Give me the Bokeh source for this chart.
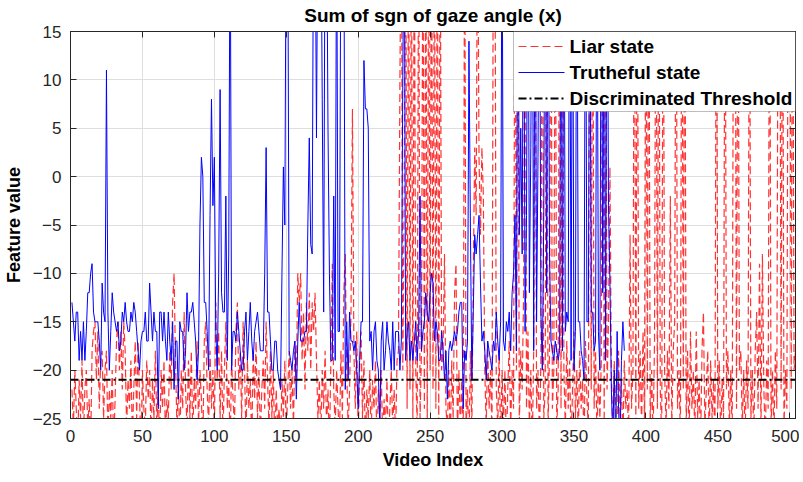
from bokeh.plotting import figure
from bokeh.models import (LinearAxis, SingleIntervalTicker, Range1d, CustomJSTickFormatter,
                          BoxAnnotation, Arrow, Label)
from bokeh.embed import file_html
from bokeh.resources import INLINE

# ---------------- data ----------------
liar_state = [
    -22, -26, -20, -24, -28, -21, -25, -19, -27, -22,
    -20, -26, -23, -28, -18, -16, -15, -21, -16, -24,
    -19, -18, -25, -20, -18, -27, -22, -25, -20, -28,
    -23, -17, -15, -20, -16, -22, -15, -18, -26, -21,
    -24, -19, -27, -22, -17, -25, -17, -23, -28, -20,
    -24, -26, -19, -23, -20, -27, -21, -25, -18, -26,
    -22, -28, -20, -24, -19, -27, -23, -25, -18, -22,
    -13, -10, -19, -26, -21, -28, -20, -24, -14, -22,
    -26, -19, -25, -18, -27, -21, -24, -17, -26, -20,
    -23, -28, -17, -15, -22, -26, -18, -24, -20, -27,
    -13, -21, -16, -25, -18, -27, -20, -15, -24, -21,
    -28, -19, -23, -26, -16, -13, -22, -18, -25, -15,
    -20, -27, -19, -24, -21, -28, -18, -23, -17, -25,
    -20, -27, -22, -19, -24, -15, -21, -26, -18, -25,
    -20, -28, -22, -26, -24, -28, -21, -25, -19, -27,
    -22, -18, -24, -20, -26, -17, -21, -10, -13, -10,
    -19, -14, -22, -13, -18, -12, -20, -13, -16, -12,
    -19, -25, -21, -27, -20, -24, -18, -26, -22, -28,
    -19, -9, -22, -26, -20, -24, -27, -18, -25, -12,
    -8, -20, -26, -22, -14, 7, -18, -24, -16, -27,
    -20, -16, -25, -19, -28, -22, -25, -20, -27, -21,
    -24, -19, -28, -22, -25, -20, -27, -23, -26, -21,
    -28, -24, -20, -26, -22, -27, -19, -18, 10, 30,
    -20, -1, 30, -24, 30, -22, 30, -26, 30, -20,
    -26, 30, -25, -18, 30, -24, 30, -26, 30, -20,
    30, -22, 30, -24, 30, -26, 30, -20, -18, -8,
    -24, -26, -20, -28, -19, -25, -12, -9, -27, -20,
    -26, -21, -28, 30, -26, -22, -28, -18, -26, -10,
    3, -4, 30, 2, -6, 3, -2, -20, -26, -17,
    -24, -20, -27, 30, 30, -22, -26, -18, -28, -20,
    -26, -20, -28, -22, -17, -26, -20, -24, 30, -20,
    30, -26, -18, -22, -12, 30, -24, -16, -26, -20,
    -28, -18, 30, -24, -20, -27, -19, 30, -25, -22,
    30, -26, -18, 30, -24, -20, 30, -26, -22, 30,
    -24, 30, -20, -26, -17, -24, -19, -28, -22, -16,
    -25, -20, -27, -18, -24, -21, -28, -17, -23, -26,
    30, -22, 30, -24, -18, -27, -20, -25, -19, 30,
    -26, 30, -22, -15, 1, -20, -27, -19, -24, -28,
    -18, -25, -21, -28, -19, -24, -22, -27, -6, -24,
    -20, 30, -26, 30, -24, -18, -26, -16, -25, 30,
    -22, 30, -26, -20, -27, -17, 30, -24, 30, -22,
    -27, 30, -20, -26, -18, -24, -2, -26, -18, -15,
    30, -24, -20, -27, 30, -22, 30, -26, -18, -28,
    -16, -24, -20, -27, -16, -25, -21, -28, -18, -14,
    -26, -22, -18, -27, -19, -25, -21, -28, 30, -24,
    -19, -27, -21, -25, 30, -22, -18, -26, -20, -27,
    30, 30, -24, 30, -20, -18, -26, -20, -27, -19,
    -24, 30, -25, -20, -27, -18, -14, -24, -9, -26,
    -8, -22, -27, -19, -24, 30, -26, -20, -27, -18,
    -24, 30, 30, -22, 30, -26, -20, -24, 30, 30,
    -22, 30, -20, -18,
]

truthful_state = [
    -13, -15, -17, -14, -14, -19, -16, -19, -15, -19,
    -16, -12, -12, -10, -9, -14, -15, -15, -15, -17,
    -20, -11, -14, -15, 11, -14, -20, -16, -12, -14,
    -15, -16, -15, -18, -17, -14, -15, -13, -15, -16,
    -16, -14, -15, -13, -14, -16, -18, -20, -17, -16,
    -16, -14, -17, -17, -11, -14, -17, -14, -16, -16,
    -24, -14, -14, -17, -14, -17, -19, -14, -17, -19,
    -15, -22, -17, -17, -23, -15, -16, -16, -20, -18,
    -12, -16, -14, -14, -13, -15, -17, -21, -18, -5,
    2, 0, -13, -13, -16, -20, -4, 8, -3, 2,
    -16, -20, -10, 9, -12, -14, -14, -2, -19, -8,
    30, -20, -16, -16, -17, -14, -16, -18, -20, -20,
    -16, -14, -19, -16, -13, -17, -19, -16, -15, -14,
    -16, -18, -18, -18, -10, 3, -14, -14, -17, -20,
    -20, -17, -17, -20, -21, -22, -10, 1, -5, 30,
    30, -18, -19, -20, -18, -17, -23, -17, -13, -17,
    -17, -17, -16, -16, -5, 4, -7, -8, 30, 30,
    4, 30, 30, 30, 8, -14, 30, 30, 5, -10,
    -19, -19, -2, -19, 30, -16, -16, 30, 30, 30,
    -22, -15, -21, -14, -17, -17, -18, -17, -20, -24,
    -19, -15, -15, 12, 7, 7, 5, -17, -16, -20,
    -16, -15, -19, -20, -26, -17, -15, -20, -18, -15,
    -17, -18, -20, -15, -20, -16, -16, -16, -20, -17,
    10, 30, -19, -16, -15, -19, -17, -19, -17, -15,
    -19, -16, -2, -18, -16, -15, -12, -14, -15, -12,
    -10, -11, -17, -15, -16, -19, -19, -16, -18, -21,
    -18, -23, -18, -17, -18, -17, -16, -17, -16, -14,
    -13, -13, -24, -18, -19, -17, 14, -5, -21, -14,
    -6, -8, -6, -4, -11, -17, -16, -18, -21, -17,
    -18, -19, -20, -17, -18, -14, -17, -19, -15, 30,
    -17, -18, -15, -16, -14, -18, -12, -10, -4, -18,
    30, -6, 5, -8, 30, -16, -4, 30, -12, 3,
    30, -18, 30, -15, 2, 30, -14, -20, -4, 30,
    -12, 30, -8, -17, -18, -19, -17, -18, -19, -18,
    30, -18, 30, -16, -14, -15, 30, -19, 30, -20,
    -16, 30, -15, -15, -18, -19, -21, 30, -15, -15,
    30, -14, -14, -18, -17, 30, -16, -20, 30, -12,
    30, -19, 30, -3, -11, -22, -27, -20, -28, -16,
    -24, -28, -19, -15, -18,
]

threshold = -21
x_limits = (0, 504)
y_limits = (-25, 15)
x_tick_step = 50
y_tick_step = 5

series_names = ["Liar state", "Trutheful state", "Discriminated Threshold"]
series_colors = ["#ff0000", "#0000ff", "black"]
series_widths = [1.2, 1, 2]
series_dashes = ["8 4", "solid", "8 3 2 3"]
series_alphas = [0.8, 1, 1]

# ---------------- figure ----------------
FONT = "Liberation Sans"
TXT = "#262626"
FRAME_W, FRAME_H = 725, 387

p = figure(
    frame_width=FRAME_W, frame_height=FRAME_H,
    x_range=Range1d(*x_limits), y_range=Range1d(*y_limits),
    output_backend="svg", toolbar_location=None,
    min_border_left=60, min_border_right=2, min_border_top=25, min_border_bottom=50,
    title="Sum of sgn of gaze angle (x)",
    background_fill_color="white", border_fill_color="white",
)

p.title.text_font = FONT
p.title.text_font_size = "19px"
p.title.text_font_style = "bold"
p.title.text_color = "black"
p.title.align = "center"
p.title.standoff = 4

p.outline_line_color = TXT
p.outline_line_width = 1

x_liar = list(range(1, len(liar_state) + 1))
x_truth = list(range(1, len(truthful_state) + 1))

p.line(x_liar, liar_state, line_color=series_colors[0], line_width=series_widths[0],
       line_alpha=series_alphas[0], line_dash=series_dashes[0])
p.line(x_truth, truthful_state, line_color=series_colors[1], line_width=series_widths[1])
p.line(list(x_limits), [threshold, threshold], line_color=series_colors[2],
       line_width=series_widths[2], line_dash=series_dashes[2])

# axes
for ax in (p.xaxis[0], p.yaxis[0]):
    ax.axis_line_color = TXT
    ax.major_tick_line_color = TXT
    ax.major_tick_in = 6
    ax.major_tick_out = 0
    ax.minor_tick_line_color = None
    ax.major_label_text_font = FONT
    ax.major_label_text_font_size = "17px"
    ax.major_label_text_color = TXT
    ax.major_label_text_line_height = 1.0
    ax.axis_label_text_font = FONT
    ax.axis_label_text_font_size = "18px"
    ax.axis_label_text_font_style = "bold"
    ax.axis_label_text_color = "black"
    ax.axis_label_text_line_height = 1.0

p.xaxis[0].ticker = SingleIntervalTicker(interval=x_tick_step)
p.yaxis[0].ticker = SingleIntervalTicker(interval=y_tick_step)
p.xaxis[0].axis_label = "Video Index"
p.yaxis[0].axis_label = "Feature value"
p.xaxis[0].major_label_standoff = 7
p.yaxis[0].major_label_standoff = 5
p.xaxis[0].axis_label_standoff = 5
p.yaxis[0].axis_label_standoff = 6

for side, step in (("right", y_tick_step), ("above", x_tick_step)):
    ax = LinearAxis(ticker=SingleIntervalTicker(interval=step),
                    formatter=CustomJSTickFormatter(code="return ''"))
    ax.axis_line_color = TXT
    ax.major_tick_line_color = TXT
    ax.major_tick_in = 6
    ax.major_tick_out = 0
    ax.minor_tick_line_color = None
    ax.major_label_standoff = 0
    p.add_layout(ax, side)

p.xgrid.ticker = SingleIntervalTicker(interval=x_tick_step)
p.ygrid.ticker = SingleIntervalTicker(interval=y_tick_step)
p.grid.grid_line_color = "#dedede"
p.grid.grid_line_width = 1

# ---------------- legend (top-right, inside the axes) ----------------
ux = (x_limits[1] - x_limits[0]) / FRAME_W   # data units per pixel
uy = (y_limits[1] - y_limits[0]) / FRAME_H
box_w, box_h = 282, 80
row_px = [15, 41, 67]
lg_left = x_limits[1] - box_w * ux
lg_top = y_limits[1]

p.add_layout(BoxAnnotation(left=lg_left, right=x_limits[1], top=lg_top,
                           bottom=lg_top - box_h * uy, fill_color="white", fill_alpha=1,
                           line_color=TXT, line_width=1, level="overlay"))
for k, name in enumerate(series_names):
    yk = lg_top - row_px[k] * uy
    p.add_layout(Arrow(end=None, x_start=lg_left + 5 * ux, x_end=lg_left + 51 * ux,
                       y_start=yk, y_end=yk, line_color=series_colors[k],
                       line_width=series_widths[k], line_alpha=series_alphas[k],
                       line_dash=series_dashes[k], level="overlay"))
    p.add_layout(Label(x=lg_left + 56 * ux, y=yk, text=name, text_baseline="middle",
                       text_font=FONT, text_font_size="19px", text_font_style="bold",
                       text_color="black", level="overlay"))

open("out.html", "w").write(file_html(p, INLINE))
